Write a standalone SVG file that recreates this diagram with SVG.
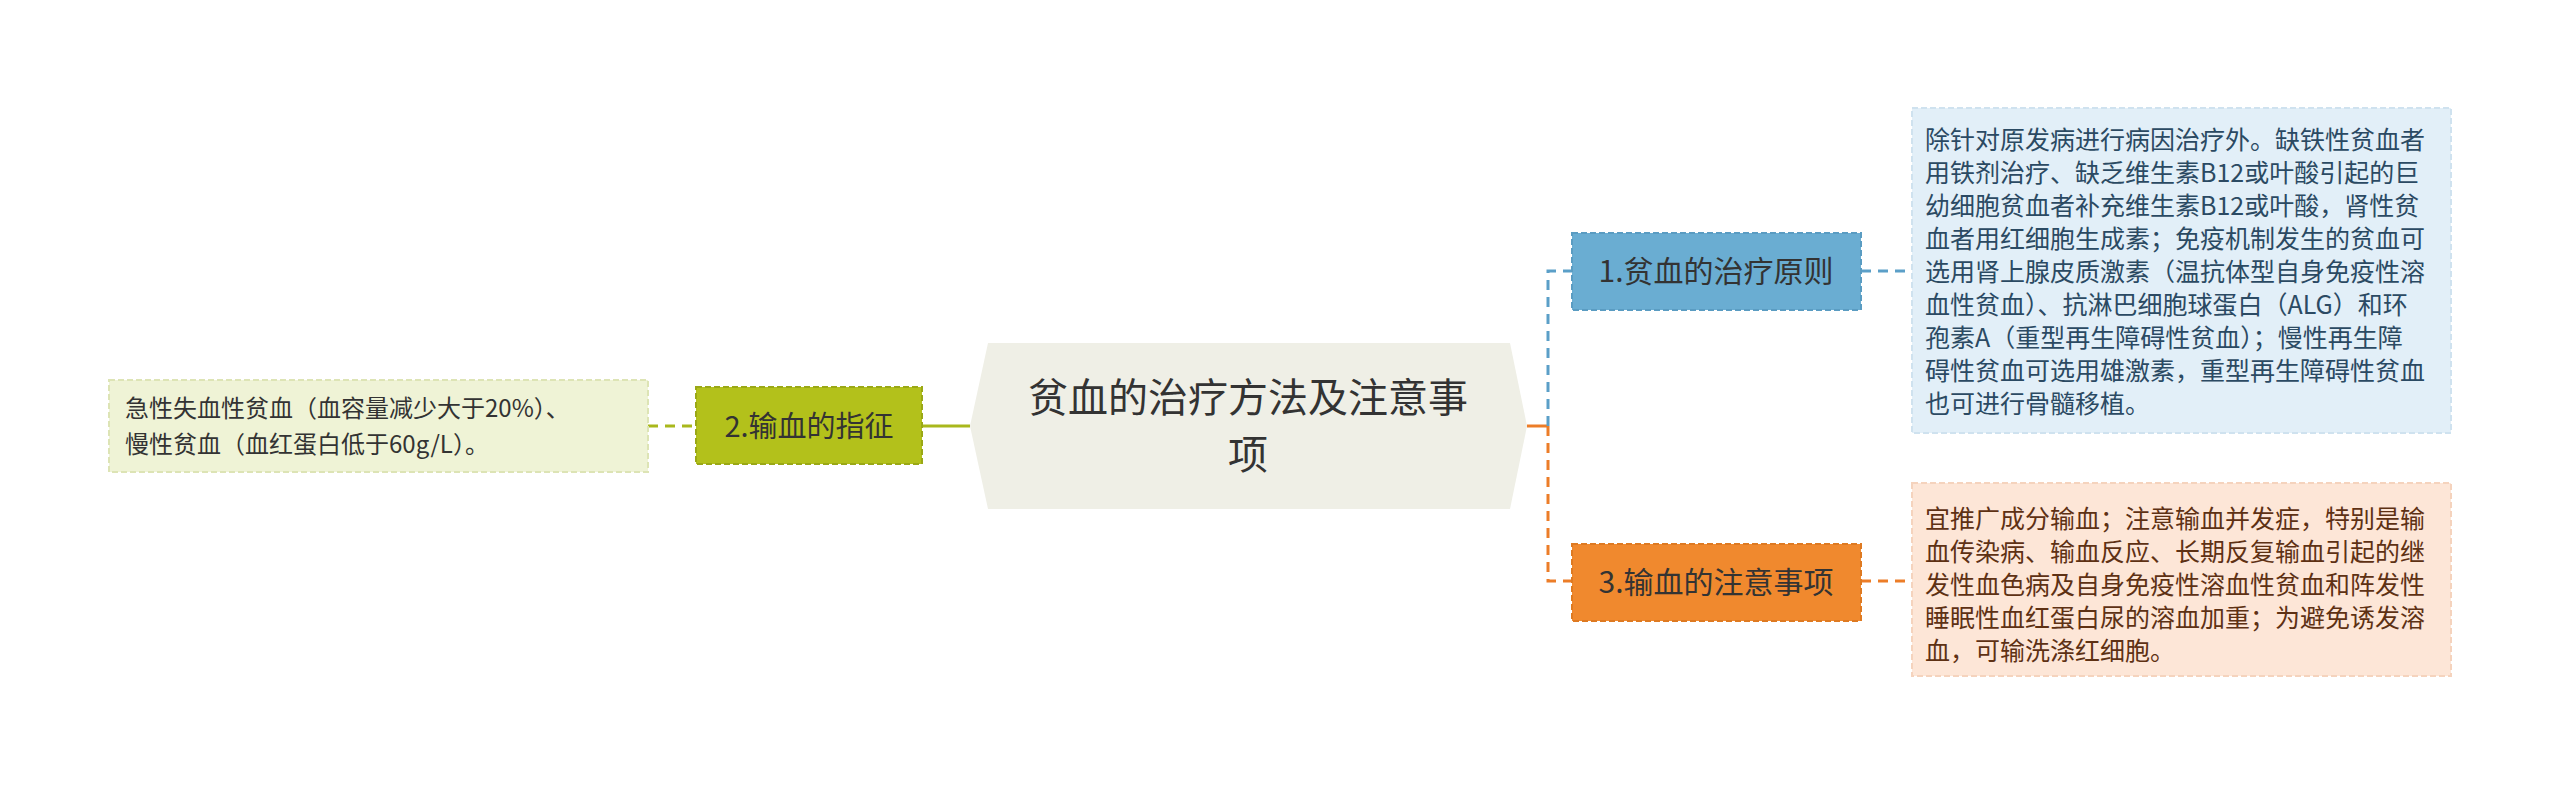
<svg xmlns="http://www.w3.org/2000/svg" width="2560" height="787" viewBox="0 0 2560 787">
<style>
text{font-family:"Noto Sans CJK SC","Liberation Sans",sans-serif;}
.c{stroke-width:3;fill:none}
.d{stroke-dasharray:10 7}
</style>
<rect width="2560" height="787" fill="#ffffff"/>
<g id="connectors">
<line x1="922" y1="426" x2="970" y2="426" stroke="#a9b81c" stroke-width="4" class="c"/>
<line x1="648" y1="426" x2="696" y2="426" stroke="#a9b81c" class="c d"/>
<line x1="1527" y1="426" x2="1548" y2="426" stroke="#ec7d28" class="c"/>
<path d="M1548 426 V271 H1572" stroke="#5b9fc8" class="c d"/>
<path d="M1548 426 V581 H1572" stroke="#ec7d28" class="c d"/>
<line x1="1861" y1="271" x2="1912" y2="271" stroke="#5b9fc8" class="c d"/>
<line x1="1861" y1="581" x2="1912" y2="581" stroke="#ec7d28" class="c d"/>
</g>
<g id="center">
<polygon points="970,426 988,343 1510,343 1527,426 1510,509 988,509" fill="#efefe6"/>
<text x="1248" y="412" font-size="40" fill="#333" text-anchor="middle">贫血的治疗方法及注意事</text>
<text x="1248" y="469" font-size="40" fill="#333" text-anchor="middle">项</text>
</g>
<g id="n2">
<rect x="696" y="387" width="226" height="77" fill="#b3c11b" stroke="#9aa816" stroke-width="2" stroke-dasharray="6 3"/>
<text x="809" y="437" font-size="29" fill="#333" text-anchor="middle">2.输血的指征</text>
</g>
<g id="leaf2">
<rect x="109" y="380" width="539" height="92" fill="#eff3d6" stroke="#dde4b5" stroke-width="2" stroke-dasharray="6 3"/>
<text font-size="24" fill="#333"><tspan x="125" y="417">急性失血性贫血（血容量减少大于20%）、</tspan><tspan x="125" y="453">慢性贫血（血红蛋白低于60g/L）。</tspan></text>
</g>
<g id="n1">
<rect x="1572" y="233" width="289" height="77" fill="#6aadd2" stroke="#5a9cc2" stroke-width="2" stroke-dasharray="6 3"/>
<text x="1716" y="282" font-size="30" fill="#333" text-anchor="middle">1.贫血的治疗原则</text>
</g>
<g id="n3">
<rect x="1572" y="544" width="289" height="77" fill="#f0892e" stroke="#de7a22" stroke-width="2" stroke-dasharray="6 3"/>
<text x="1716" y="593" font-size="30" fill="#333" text-anchor="middle">3.输血的注意事项</text>
</g>
<g id="leaf1">
<rect x="1912" y="108" width="539" height="325" fill="#e2eff8" stroke="#cfe2ef" stroke-width="2" stroke-dasharray="6 3"/>
<text font-size="25" fill="#2b4a63"><tspan x="1925" y="149">除针对原发病进行病因治疗外。缺铁性贫血者</tspan><tspan x="1925" y="182">用铁剂治疗、缺乏维生素B12或叶酸引起的巨</tspan><tspan x="1925" y="215">幼细胞贫血者补充维生素B12或叶酸，肾性贫</tspan><tspan x="1925" y="248">血者用红细胞生成素；免疫机制发生的贫血可</tspan><tspan x="1925" y="281">选用肾上腺皮质激素（温抗体型自身免疫性溶</tspan><tspan x="1925" y="314">血性贫血）、抗淋巴细胞球蛋白（ALG）和环</tspan><tspan x="1925" y="347">孢素A（重型再生障碍性贫血）；慢性再生障</tspan><tspan x="1925" y="380">碍性贫血可选用雄激素，重型再生障碍性贫血</tspan><tspan x="1925" y="413">也可进行骨髓移植。</tspan></text>
</g>
<g id="leaf3">
<rect x="1912" y="483" width="539" height="193" fill="#fde6d7" stroke="#f5d3bd" stroke-width="2" stroke-dasharray="6 3"/>
<text font-size="25" fill="#5e3114"><tspan x="1925" y="528">宜推广成分输血；注意输血并发症，特别是输</tspan><tspan x="1925" y="561">血传染病、输血反应、长期反复输血引起的继</tspan><tspan x="1925" y="594">发性血色病及自身免疫性溶血性贫血和阵发性</tspan><tspan x="1925" y="627">睡眠性血红蛋白尿的溶血加重；为避免诱发溶</tspan><tspan x="1925" y="660">血，可输洗涤红细胞。</tspan></text>
</g>
</svg>
